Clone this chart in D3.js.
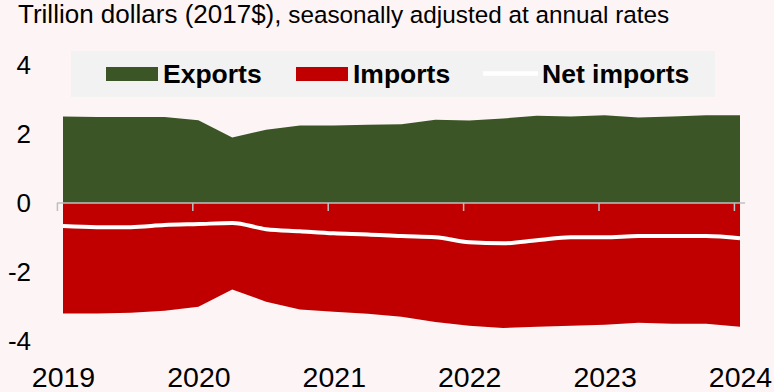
<!DOCTYPE html>
<html>
<head>
<meta charset="utf-8">
<script src="https://cdn.jsdelivr.net/npm/d3@7"></script>
<style>
  body { margin: 0; background: #FDF5F5; }
  svg { display: block; font-family: "Liberation Sans", Arial, sans-serif; }
</style>
</head>
<body>
<div id="chart"></div>
<script>
// quarterly, 2019Q1 .. 2024Q1 (trillion 2017$, SAAR)
const quarters = ["2019Q1","2019Q2","2019Q3","2019Q4","2020Q1","2020Q2","2020Q3","2020Q4",
  "2021Q1","2021Q2","2021Q3","2021Q4","2022Q1","2022Q2","2022Q3","2022Q4",
  "2023Q1","2023Q2","2023Q3","2023Q4","2024Q1"];
const exports = [2.51, 2.49, 2.49, 2.49, 2.40, 1.90, 2.12, 2.25, 2.25, 2.27, 2.28, 2.41,
  2.39, 2.45, 2.53, 2.51, 2.54, 2.48, 2.51, 2.54, 2.54];
const imports = [3.20, 3.20, 3.18, 3.12, 3.01, 2.51, 2.86, 3.09, 3.15, 3.21, 3.30, 3.45,
  3.56, 3.62, 3.59, 3.56, 3.53, 3.47, 3.50, 3.50, 3.59];
const netImports = [0.67, 0.70, 0.70, 0.64, 0.61, 0.58, 0.76, 0.82, 0.88, 0.91, 0.96, 0.99,
  1.14, 1.17, 1.08, 0.99, 0.99, 0.96, 0.96, 0.96, 1.02];
const yearLabels = ["2019", "2020", "2021", "2022", "2023", "2024"];
const yTicks = [-4, -2, 0, 2, 4];

const width = 774, height = 392;
const green = "#3B5526", red = "#C00000";

let svg = d3.select("#chart")
    .append("svg")
    .attr("width", width)
    .attr("height", height);

svg.append("rect")
    .attr("width", width)
    .attr("height", height)
    .attr("fill", "#FDF5F5");

// title
let title = svg.append("text")
    .attr("x", 18)
    .attr("y", 23)
    .attr("fill", "#000");
title.append("tspan").attr("font-size", 26).text("Trillion dollars (2017$),");
title.append("tspan").attr("font-size", 24.3).text(" seasonally adjusted at annual rates");

let x = d3.scaleLinear()
    .domain([0, quarters.length - 1])
    .range([63, 740]);

let y = d3.scaleLinear()
    .domain([-4, 4])
    .range([341, 65]);

// areas
let exportArea = d3.area()
    .x((d, i) => x(i))
    .y0(y(0))
    .y1(d => y(d));
let importArea = d3.area()
    .x((d, i) => x(i))
    .y0(y(0))
    .y1(d => y(-d));

svg.append("path")
    .attr("d", exportArea(exports))
    .attr("fill", green);
svg.append("path")
    .attr("d", importArea(imports))
    .attr("fill", red);

// zero axis with ticks between categories
let tickIdx = yearLabels.map((d, i) => i * 4 - 0.18);
let xAxis = svg.append("g")
    .attr("transform", `translate(0, ${y(0)})`)
    .call(d3.axisBottom(x).tickValues(tickIdx).tickSize(8).tickSizeOuter(0).tickFormat(""));
xAxis.select(".domain")
    .attr("d", `M${x(-0.18)},0H${x(20.15)}`)
    .attr("stroke", "#BFBFBF")
    .attr("stroke-width", 1.5);
xAxis.selectAll(".tick line")
    .attr("stroke", "#BFBFBF")
    .attr("stroke-width", 1.5);

// net imports line
let line = d3.line()
    .x((d, i) => x(i))
    .y(d => y(-d))
    .curve(d3.curveMonotoneX);
svg.append("path")
    .attr("d", line(netImports))
    .attr("fill", "none")
    .attr("stroke", "#fff")
    .attr("stroke-width", 4);

// year labels
let labelAxis = svg.append("g")
    .attr("transform", "translate(0, 387)")
    .call(d3.axisBottom(x).tickValues(yearLabels.map((d, i) => i * 4)).tickSize(0).tickPadding(0)
        .tickFormat((d, i) => yearLabels[i]));
labelAxis.select(".domain").remove();
labelAxis.selectAll("text")
    .attr("font-size", 28.5)
    .attr("font-family", "Liberation Sans, Arial, sans-serif")
    .attr("fill", "#000")
    .attr("y", 0)
    .attr("dy", 0);

// y labels
let yAxis = svg.append("g")
    .attr("transform", "translate(31, 0)")
    .call(d3.axisLeft(y).tickValues(yTicks).tickSize(0).tickPadding(0).tickFormat(d => String(d)));
yAxis.select(".domain").remove();
yAxis.selectAll("text")
    .attr("font-size", 26)
    .attr("font-family", "Liberation Sans, Arial, sans-serif")
    .attr("fill", "#000");

// legend
let legend = svg.append("g");
legend.append("rect")
    .attr("x", 71).attr("y", 51)
    .attr("width", 644).attr("height", 46)
    .attr("fill", "#F2F2F2");
let items = [
    {name: "Exports", color: green, type: "box", x: 106},
    {name: "Imports", color: red, type: "box", x: 296},
    {name: "Net imports", color: "#fff", type: "line", x: 483}
];
items.forEach(d => {
    if (d.type === "box") {
        legend.append("rect")
            .attr("x", d.x).attr("y", 67)
            .attr("width", 52).attr("height", 14)
            .attr("fill", d.color);
    } else {
        legend.append("line")
            .attr("x1", d.x).attr("x2", d.x + 55)
            .attr("y1", 73.5).attr("y2", 73.5)
            .attr("stroke", d.color)
            .attr("stroke-width", 4.5);
    }
    legend.append("text")
        .attr("x", d.x + (d.type === "box" ? 57 : 59))
        .attr("y", 83)
        .attr("font-size", 26.5)
        .attr("font-weight", "bold")
        .attr("fill", "#000")
        .text(d.name);
});
</script>
</body>
</html>
